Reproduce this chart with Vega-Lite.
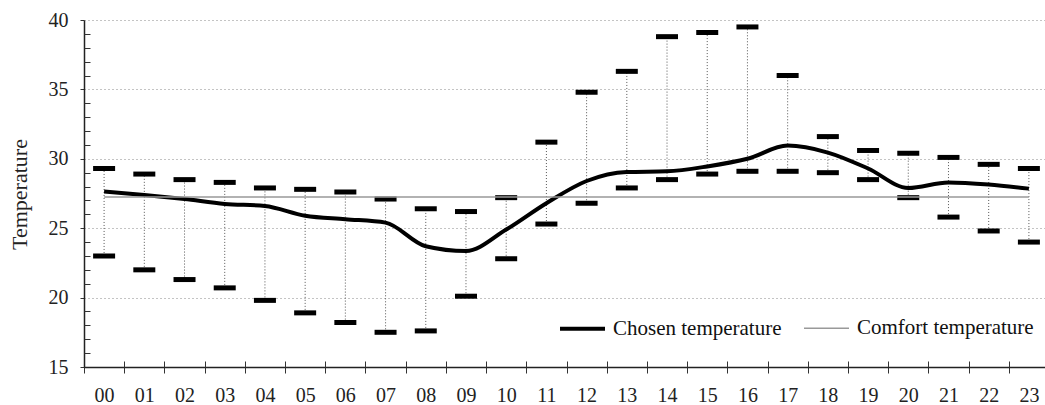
{
  "$schema": "https://vega.github.io/schema/vega-lite/v6.json",
  "width": 961,
  "height": 347,
  "autosize": {"type": "none"},
  "padding": {"left": 84, "top": 20, "right": 0, "bottom": 38},
  "background": "white",
  "config": {"font": "Liberation Serif", "view": {"stroke": null}},
  "resolve": {"axis": {"x": "independent", "y": "independent"}},
  "datasets": {
    "ranges": [
      {"hour": "00", "low": 23.0, "high": 29.3},
      {"hour": "01", "low": 22.0, "high": 28.9},
      {"hour": "02", "low": 21.3, "high": 28.5},
      {"hour": "03", "low": 20.7, "high": 28.3},
      {"hour": "04", "low": 19.8, "high": 27.9},
      {"hour": "05", "low": 18.9, "high": 27.8},
      {"hour": "06", "low": 18.2, "high": 27.6},
      {"hour": "07", "low": 17.5, "high": 27.1},
      {"hour": "08", "low": 17.6, "high": 26.4},
      {"hour": "09", "low": 20.1, "high": 26.2},
      {"hour": "10", "low": 22.8, "high": 27.2},
      {"hour": "11", "low": 25.3, "high": 31.2},
      {"hour": "12", "low": 26.8, "high": 34.8},
      {"hour": "13", "low": 27.9, "high": 36.3},
      {"hour": "14", "low": 28.5, "high": 38.8},
      {"hour": "15", "low": 28.9, "high": 39.1},
      {"hour": "16", "low": 29.1, "high": 39.5},
      {"hour": "17", "low": 29.1, "high": 36.0},
      {"hour": "18", "low": 29.0, "high": 31.6},
      {"hour": "19", "low": 28.5, "high": 30.6},
      {"hour": "20", "low": 27.2, "high": 30.4},
      {"hour": "21", "low": 25.8, "high": 30.1},
      {"hour": "22", "low": 24.8, "high": 29.6},
      {"hour": "23", "low": 24.0, "high": 29.3}
    ],
    "lines": [
      {"hour": "00", "series": "Chosen temperature", "value": 27.65},
      {"hour": "01", "series": "Chosen temperature", "value": 27.4},
      {"hour": "02", "series": "Chosen temperature", "value": 27.1},
      {"hour": "03", "series": "Chosen temperature", "value": 26.75},
      {"hour": "04", "series": "Chosen temperature", "value": 26.6},
      {"hour": "05", "series": "Chosen temperature", "value": 25.9},
      {"hour": "06", "series": "Chosen temperature", "value": 25.65},
      {"hour": "07", "series": "Chosen temperature", "value": 25.4},
      {"hour": "08", "series": "Chosen temperature", "value": 23.7},
      {"hour": "09", "series": "Chosen temperature", "value": 23.35},
      {"hour": "10", "series": "Chosen temperature", "value": 24.9},
      {"hour": "11", "series": "Chosen temperature", "value": 26.8},
      {"hour": "12", "series": "Chosen temperature", "value": 28.4},
      {"hour": "13", "series": "Chosen temperature", "value": 29.05},
      {"hour": "14", "series": "Chosen temperature", "value": 29.1},
      {"hour": "15", "series": "Chosen temperature", "value": 29.45},
      {"hour": "16", "series": "Chosen temperature", "value": 30.0},
      {"hour": "17", "series": "Chosen temperature", "value": 30.95},
      {"hour": "18", "series": "Chosen temperature", "value": 30.45},
      {"hour": "19", "series": "Chosen temperature", "value": 29.3},
      {"hour": "20", "series": "Chosen temperature", "value": 27.9},
      {"hour": "21", "series": "Chosen temperature", "value": 28.3},
      {"hour": "22", "series": "Chosen temperature", "value": 28.15},
      {"hour": "23", "series": "Chosen temperature", "value": 27.85},
      {"hour": "00", "series": "Comfort temperature", "value": 27.25},
      {"hour": "01", "series": "Comfort temperature", "value": 27.25},
      {"hour": "02", "series": "Comfort temperature", "value": 27.25},
      {"hour": "03", "series": "Comfort temperature", "value": 27.25},
      {"hour": "04", "series": "Comfort temperature", "value": 27.25},
      {"hour": "05", "series": "Comfort temperature", "value": 27.25},
      {"hour": "06", "series": "Comfort temperature", "value": 27.25},
      {"hour": "07", "series": "Comfort temperature", "value": 27.25},
      {"hour": "08", "series": "Comfort temperature", "value": 27.25},
      {"hour": "09", "series": "Comfort temperature", "value": 27.25},
      {"hour": "10", "series": "Comfort temperature", "value": 27.25},
      {"hour": "11", "series": "Comfort temperature", "value": 27.25},
      {"hour": "12", "series": "Comfort temperature", "value": 27.25},
      {"hour": "13", "series": "Comfort temperature", "value": 27.25},
      {"hour": "14", "series": "Comfort temperature", "value": 27.25},
      {"hour": "15", "series": "Comfort temperature", "value": 27.25},
      {"hour": "16", "series": "Comfort temperature", "value": 27.25},
      {"hour": "17", "series": "Comfort temperature", "value": 27.25},
      {"hour": "18", "series": "Comfort temperature", "value": 27.25},
      {"hour": "19", "series": "Comfort temperature", "value": 27.25},
      {"hour": "20", "series": "Comfort temperature", "value": 27.25},
      {"hour": "21", "series": "Comfort temperature", "value": 27.25},
      {"hour": "22", "series": "Comfort temperature", "value": 27.25},
      {"hour": "23", "series": "Comfort temperature", "value": 27.25}
    ]
  },
  "layer": [
    {
      "data": {"name": "ranges"},
      "mark": {"type": "rule", "strokeDash": [1, 2], "color": "#555", "strokeWidth": 1},
      "encoding": {
        "x": {
          "field": "hour", "type": "ordinal",
          "scale": {"type": "band", "paddingInner": 0, "paddingOuter": 0, "range": [0, 965]},
          "axis": {
            "orient": "bottom", "title": null, "tickBand": "extent", "labelAngle": 0, "tickSize": 6,
            "labelPadding": 12, "labelFontSize": 20, "labelColor": "#222",
            "domainColor": "#222", "domainWidth": 1.5, "tickColor": "#333", "grid": false
          }
        },
        "y": {
          "field": "low", "type": "quantitative",
          "scale": {"domain": [15, 40], "nice": false, "zero": false},
          "axis": {
            "orient": "left",
            "values": [15, 20, 25, 30, 35, 40],
            "tickSize": 4, "labelOverlap": false,
            "grid": true, "gridDash": [1, 3], "gridColor": "#888", "gridWidth": 1,
            "domainColor": "#222", "domainWidth": 1.5, "tickColor": "#333",
            "labelFontSize": 20, "labelPadding": 12, "labelColor": "#222",
            "title": "Temperature", "titleFontSize": 22, "titleFontWeight": "normal",
            "titleX": -65, "titleY": 174, "titleAngle": -90, "titleBaseline": "middle",
            "titleAlign": "center", "titleColor": "#222"
          }
        },
        "y2": {"field": "high"}
      }
    },
    {
      "data": {"name": "ranges"},
      "mark": {"type": "tick", "color": "black", "size": 22, "thickness": 5, "opacity": 1},
      "encoding": {
        "x": {
          "field": "hour", "type": "ordinal",
          "axis": {
            "orient": "bottom", "title": null, "tickBand": "extent", "tickSize": -6,
            "labels": false, "domain": false, "grid": false, "tickColor": "#333"
          }
        },
        "y": {
          "field": "low", "type": "quantitative",
          "axis": {
            "orient": "left", "title": null,
            "values": [16,17,18,19,21,22,23,24,26,27,28,29,31,32,33,34,36,37,38,39],
            "tickSize": -6, "labels": false, "domain": false, "grid": false, "tickColor": "#333"
          }
        }
      }
    },
    {
      "data": {"name": "ranges"},
      "mark": {"type": "tick", "color": "black", "size": 22, "thickness": 5, "opacity": 1},
      "encoding": {
        "x": {"field": "hour", "type": "ordinal", "axis": null},
        "y": {"field": "high", "type": "quantitative", "axis": null}
      }
    },
    {
      "data": {"name": "lines"},
      "mark": {"type": "line", "interpolate": "monotone"},
      "encoding": {
        "x": {"field": "hour", "type": "ordinal", "axis": null},
        "y": {"field": "value", "type": "quantitative", "axis": null},
        "color": {
          "field": "series", "type": "nominal",
          "scale": {"domain": ["Chosen temperature", "Comfort temperature"], "range": ["#000000", "#999999"]},
          "legend": {
            "title": null, "orient": "none", "legendX": 474, "legendY": 284,
            "direction": "horizontal", "columns": 2, "symbolType": "stroke",
            "symbolSize": 2025, "labelFontSize": 21, "labelFont": "Liberation Serif",
            "labelOffset": 6, "columnPadding": 19, "padding": 0, "labelColor": "#111", "labelLimit": 0
          }
        },
        "strokeWidth": {
          "field": "series", "type": "ordinal",
          "scale": {"domain": ["Chosen temperature", "Comfort temperature"], "range": [4, 1.5]},
          "legend": {
            "title": null, "orient": "none", "legendX": 474, "legendY": 284,
            "direction": "horizontal", "columns": 2, "symbolType": "stroke",
            "symbolSize": 2025, "labelFontSize": 21, "labelFont": "Liberation Serif",
            "labelOffset": 6, "columnPadding": 19, "padding": 0, "labelColor": "#111", "labelLimit": 0
          }
        }
      }
    }
  ]
}
